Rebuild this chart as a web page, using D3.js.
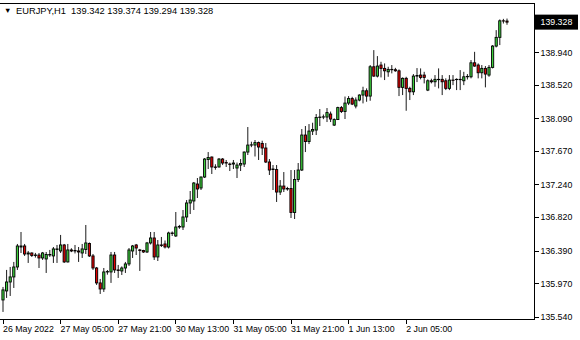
<!DOCTYPE html>
<html>
<head>
<meta charset="utf-8">
<script src="https://cdn.jsdelivr.net/npm/d3@7"></script>
<style>
  body { margin: 0; background: #fff; }
  svg text { font-family: "Liberation Sans", Arial, sans-serif; font-size: 8.8px; fill: #000; }
  svg text.header { font-size: 9.3px; }
  .axis path { display: none; }
  .axis line { stroke: #000; shape-rendering: crispEdges; }
</style>
</head>
<body>
<svg id="chart" width="580" height="340"></svg>
<script>
var symbol = "EURJPY,H1"

var openPrices = [
  135.755,135.871,135.986,136.051,136.179,136.436,136.449,136.346,136.359,136.327,
  136.333,136.295,136.282,136.333,136.321,136.404,136.385,136.462,136.244,136.398,
  136.385,136.385,136.359,136.404,136.481,136.321,136.166,135.974,135.896,136.115,
  136.115,136.333,136.141,136.128,136.166,136.218,136.385,136.462,136.398,136.391,
  136.372,136.488,136.552,136.308,136.462,136.475,136.436,136.616,136.578,136.693,
  136.693,136.822,137.002,137.028,137.246,137.195,137.336,137.561,137.593,137.465,
  137.465,137.567,137.522,137.503,137.503,137.452,137.490,137.503,137.657,137.747,
  137.747,137.779,137.767,137.709,137.529,137.439,137.432,137.143,137.220,137.182,
  137.188,136.880,137.304,137.426,137.876,137.792,137.927,137.940,138.101,138.107,
  138.107,138.146,138.004,138.075,138.229,138.178,138.287,138.345,138.249,138.326,
  138.390,138.445,138.377,138.754,138.634,138.776,138.733,138.689,138.720,138.716,
  138.702,138.489,138.605,138.476,138.432,138.634,138.647,138.647,138.454,138.574,
  138.561,138.592,138.592,138.574,138.476,138.583,138.589,138.592,138.574,138.625,
  138.625,138.805,138.776,138.677,138.733,138.647,138.746,139.020,139.132,139.345,139.342
]
var highPrices = [
  135.922,136.141,136.179,136.244,136.475,136.629,136.475,136.385,136.366,136.360,
  136.359,136.372,136.372,136.398,136.436,136.462,136.591,136.475,136.475,136.420,
  136.462,136.436,136.475,136.719,136.494,136.346,136.179,136.025,136.166,136.140,
  136.372,136.372,136.205,136.186,136.244,136.423,136.462,136.475,136.411,136.400,
  136.501,136.629,136.629,136.526,136.565,136.520,136.633,136.636,136.886,136.720,
  136.912,137.040,137.156,137.272,137.323,137.342,137.580,137.657,137.600,137.500,
  137.580,137.580,137.555,137.522,137.555,137.522,137.567,137.664,137.979,137.790,
  137.812,137.792,137.803,137.773,137.567,137.490,137.490,137.297,137.400,137.210,
  137.426,137.426,137.516,137.953,137.992,138.017,138.034,138.146,138.210,138.140,
  138.223,138.178,138.091,138.240,138.249,138.371,138.377,138.368,138.360,138.400,
  138.497,138.476,138.776,138.968,138.891,138.818,138.797,138.754,138.776,138.740,
  138.720,138.617,138.625,138.497,138.660,138.737,138.733,138.689,138.592,138.600,
  138.647,138.733,138.647,138.605,138.647,138.647,138.605,138.711,138.689,138.660,
  138.840,138.946,138.797,138.776,138.763,138.776,139.033,139.225,139.363,139.370,139.374
]
var lowPrices = [
  135.601,135.781,135.806,135.909,136.141,136.359,136.321,136.231,136.308,136.300,
  136.166,136.269,136.102,136.308,136.231,136.231,136.359,136.231,136.237,136.370,
  136.353,136.244,136.295,136.346,136.308,136.141,135.948,135.832,135.858,136.080,
  135.974,136.102,136.038,136.076,136.102,136.192,136.295,136.333,136.128,136.360,
  136.359,136.468,136.269,136.256,136.436,136.417,136.417,136.578,136.565,136.670,
  136.655,136.758,136.860,136.912,137.066,137.169,137.323,137.439,137.375,137.430,
  137.458,137.490,137.465,137.413,137.439,137.323,137.413,137.465,137.619,137.720,
  137.600,137.555,137.619,137.516,137.362,137.169,137.015,137.105,137.143,137.160,
  136.809,136.796,137.272,137.413,137.657,137.760,137.876,137.876,137.992,138.080,
  138.043,138.043,137.992,138.069,138.159,138.082,138.261,138.261,138.219,138.310,
  138.283,138.304,138.317,138.625,138.617,138.617,138.583,138.625,138.669,138.690,
  138.377,138.390,138.188,138.326,138.390,138.557,138.592,138.540,138.441,138.540,
  138.497,138.476,138.390,138.454,138.454,138.518,138.454,138.454,138.518,138.590,
  138.605,138.754,138.605,138.605,138.489,138.625,138.733,139.003,139.033,139.310,139.294
]
var closePrices = [
  135.884,135.986,136.051,136.179,136.449,136.449,136.346,136.359,136.327,136.333,
  136.295,136.359,136.340,136.340,136.411,136.411,136.462,136.244,136.398,136.385,
  136.391,136.372,136.411,136.488,136.321,136.166,135.974,135.896,136.115,136.120,
  136.333,136.141,136.134,136.166,136.218,136.398,136.449,136.423,136.391,136.372,
  136.488,136.552,136.308,136.462,136.456,136.436,136.616,136.610,136.693,136.700,
  136.822,137.002,137.040,137.259,137.182,137.336,137.567,137.587,137.465,137.460,
  137.567,137.516,137.516,137.497,137.516,137.490,137.510,137.657,137.747,137.750,
  137.779,137.722,137.709,137.529,137.426,137.432,137.143,137.220,137.182,137.188,
  136.880,137.304,137.426,137.876,137.792,137.927,137.947,138.101,138.107,138.110,
  138.165,138.082,138.075,138.229,138.178,138.287,138.345,138.274,138.326,138.390,
  138.445,138.377,138.754,138.634,138.763,138.733,138.702,138.720,138.716,138.702,
  138.489,138.605,138.476,138.432,138.634,138.641,138.617,138.617,138.574,138.561,
  138.592,138.588,138.561,138.476,138.583,138.579,138.592,138.588,138.625,138.630,
  138.805,138.763,138.677,138.733,138.660,138.746,139.020,139.132,139.345,139.342,139.328
]

// hourly bars, first one is 26 May 2022 13:00, weekends skipped
var firstBar = new Date(2022, 4, 26, 13)
var timeTicks = ["2022-05-26 13:00", "2022-05-27 05:00", "2022-05-27 21:00", "2022-05-30 13:00",
  "2022-05-31 05:00", "2022-05-31 21:00", "2022-06-01 13:00", "2022-06-02 05:00"]
var timeLabels = ["26 May 2022", "27 May 05:00", "27 May 21:00", "30 May 13:00",
  "31 May 05:00", "31 May 21:00", "1 Jun 13:00", "2 Jun 05:00"]
var priceTicks = [135.54, 135.97, 136.39, 136.82, 137.24, 137.67, 138.09, 138.52, 138.94]

var keyFormat = d3.timeFormat("%Y-%m-%d %H:%M")
var barTimes = d3.timeHour.range(firstBar, new Date(2022, 5, 10))
  .filter(function(d) { return d.getDay() != 0 && d.getDay() != 6 })
  .slice(0, closePrices.length)
  .map(keyFormat)

var bars = closePrices.map(function(c, i) {
  return { t: barTimes[i], o: openPrices[i], h: highPrices[i], l: lowPrices[i], c: c }
})

var plotRight = 534.5
var plotTop = 3
var plotBottom = 319
var barStep = 3.6

var svg = d3.select("#chart")

var x = d3.scaleBand()
  .domain(barTimes)
  .range([1.2, 1.2 + barTimes.length * barStep])

var y = d3.scaleLinear()
  .domain([135.51, 139.574])
  .range([plotBottom, plotTop])

// frame
svg.append("path")
  .attr("d", "M0," + (plotTop + 0.5) + "H" + plotRight + "V" + (plotBottom + 0.5) + "H0")
  .attr("fill", "none")
  .attr("stroke", "#000")
  .attr("shape-rendering", "crispEdges")

svg.append("g")
  .attr("class", "axis")
  .attr("transform", "translate(" + plotRight + ",0)")
  .call(d3.axisRight(y).tickValues(priceTicks).tickSize(4).tickFormat(d3.format(".3f")))
  .selectAll("text").attr("x", 6)

svg.append("g")
  .attr("class", "axis")
  .attr("transform", "translate(0," + (plotBottom + 0.5) + ")")
  .call(d3.axisBottom(x).tickValues(timeTicks).tickSize(4)
    .tickFormat(function(d, i) { return timeLabels[i] }))
  .selectAll("text")
  .attr("text-anchor", "start")
  .attr("x", 0)
  .attr("y", 6)

// candles
var candle = svg.append("g").selectAll("g")
  .data(bars)
  .enter().append("g")
  .attr("transform", function(d) { return "translate(" + (x(d.t) + x.bandwidth() / 2) + ",0)" })

candle.append("line")
  .attr("y1", function(d) { return y(d.h) })
  .attr("y2", function(d) { return y(d.l) })
  .attr("stroke", "#000")
  .attr("stroke-width", 0.9)

candle.append("rect")
  .attr("x", -1.1)
  .attr("width", 2.2)
  .attr("y", function(d) { return y(Math.max(d.o, d.c)) })
  .attr("height", function(d) { return Math.max(0.01, Math.abs(y(d.o) - y(d.c))) })
  .attr("fill", function(d) {
    if (d.c >= d.o) {
      return "#3ccf3c"
    } else {
      return "#e00000"
    }
  })
  .attr("stroke", "#000")
  .attr("stroke-width", 0.9)

// last price marker
var last = bars[bars.length - 1]
svg.append("rect")
  .attr("x", plotRight + 0.5)
  .attr("y", y(last.c) - 7.5)
  .attr("width", 43)
  .attr("height", 15)
  .attr("fill", "#000")
svg.append("text")
  .attr("x", plotRight + 6)
  .attr("y", y(last.c))
  .attr("dy", "0.34em")
  .style("fill", "#fff")
  .text(d3.format(".3f")(last.c))

// header
svg.append("text")
  .attr("x", 4)
  .attr("y", 13)
  .style("font-size", "7.5px")
  .text("\u25BC")
var f3 = d3.format(".3f")
svg.append("text")
  .attr("class", "header")
  .attr("x", 16)
  .attr("y", 14)
  .attr("xml:space", "preserve")
  .text(symbol + "  " + f3(last.o) + " " + f3(last.h) + " " + f3(last.l) + " " + f3(last.c))
</script>
</body>
</html>
